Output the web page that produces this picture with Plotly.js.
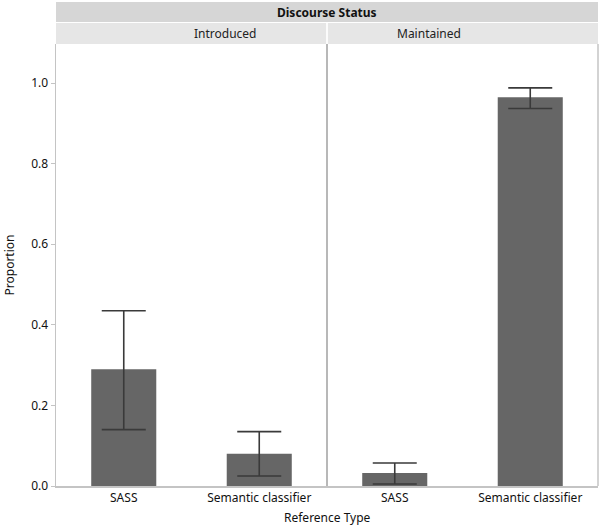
<!DOCTYPE html>
<html>
<head>
<meta charset="utf-8">
<script src="https://cdn.plot.ly/plotly-3.0.1.min.js"></script>
<style>
  html, body { margin: 0; padding: 0; background: #fff; }
  #chart { width: 600px; height: 531px; }
</style>
</head>
<body>
<div id="chart"></div>
<script>
// values
const categories = ['SASS', 'Semantic classifier'];
const panels = ['Introduced', 'Maintained'];
const introducedValues = [0.29, 0.08];
const introducedUpper = [0.435, 0.135];
const introducedLower = [0.14, 0.025];
const maintainedValues = [0.032, 0.965];
const maintainedUpper = [0.057, 0.988];
const maintainedLower = [0.005, 0.937];
const yTicks = [0, 0.2, 0.4, 0.6, 0.8, 1.0];

const barColor = '#666666';
const errColor = '#3a3a3a';
const axisGray = '#c4c4c4';
const font = 'Noto Sans, Open Sans, sans-serif';

// turn upper/lower limits into plotly's plus/minus arrays
const plus = (vals, up) => vals.map((v, i) => up[i] - v);
const minus = (vals, lo) => vals.map((v, i) => v - lo[i]);

function barTrace(vals, up, lo, xaxis) {
  return {
    type: 'bar',
    x: categories,
    y: vals,
    xaxis: xaxis,
    yaxis: 'y',
    width: 0.48,
    marker: { color: barColor, line: { width: 0 } },
    error_y: {
      type: 'data',
      symmetric: false,
      array: plus(vals, up),
      arrayminus: minus(vals, lo),
      color: errColor,
      thickness: 1.6,
      width: 22
    },
    hoverinfo: 'x+y',
    showlegend: false
  };
}

const data = [
  barTrace(introducedValues, introducedUpper, introducedLower, 'x'),
  barTrace(maintainedValues, maintainedUpper, maintainedLower, 'x2')
];

const xCommon = {
  type: 'category',
  range: [-0.5, 1.5],
  showgrid: false,
  zeroline: false,
  showline: true,
  linecolor: axisGray,
  linewidth: 1.5,
  ticks: '',
  tickfont: { family: font, size: 12, color: '#111' },
  fixedrange: true
};

const layout = {
  width: 600,
  height: 531,
  margin: { l: 56, r: 2, t: 44, b: 45 },
  paper_bgcolor: '#ffffff',
  plot_bgcolor: '#ffffff',
  bargap: 0.52,
  xaxis: Object.assign({}, xCommon, { domain: [0, 0.5], anchor: 'y' }),
  xaxis2: Object.assign({}, xCommon, { domain: [0.5, 1], anchor: 'y' }),
  yaxis: {
    range: [0, 1.097],
    tickvals: yTicks,
    ticktext: yTicks.map(v => v.toFixed(1)),
    showgrid: false,
    zeroline: false,
    showline: true,
    linecolor: axisGray,
    linewidth: 1.5,
    ticks: 'outside',
    ticklen: 4,
    tickcolor: axisGray,
    tickfont: { family: font, size: 12, color: '#111' },
    title: { text: 'Proportion', font: { family: font, size: 12, color: '#111' }, standoff: 14 },
    fixedrange: true
  },
  shapes: [
    // outer header strip and panel strips
    { type: 'rect', xref: 'paper', yref: 'paper', x0: 0, x1: 1, y0: 1.0498, y1: 1.095,
      fillcolor: '#d6d6d6', line: { width: 0 }, layer: 'below' },
    { type: 'rect', xref: 'paper', yref: 'paper', x0: 0, x1: 0.4985, y0: 1.0, y1: 1.0475,
      fillcolor: '#e6e6e6', line: { width: 0 }, layer: 'below' },
    { type: 'rect', xref: 'paper', yref: 'paper', x0: 0.5015, x1: 1, y0: 1.0, y1: 1.0475,
      fillcolor: '#e6e6e6', line: { width: 0 }, layer: 'below' },
    // panel divider and right border
    { type: 'line', xref: 'paper', yref: 'paper', x0: 0.5, x1: 0.5, y0: 0, y1: 1,
      line: { color: '#a0a0a0', width: 1.5 } },
    { type: 'line', xref: 'paper', yref: 'paper', x0: 1, x1: 1, y0: 0, y1: 1,
      line: { color: axisGray, width: 1.5 } }
  ],
  annotations: [
    { text: '<b>Discourse Status</b>', xref: 'paper', yref: 'paper', x: 0.5, y: 1.072,
      showarrow: false, yanchor: 'middle', font: { family: font, size: 12, color: '#111' } },
    { text: panels[0], xref: 'paper', yref: 'paper', x: 0.25, y: 1.024,
      showarrow: false, yanchor: 'middle', font: { family: font, size: 12, color: '#222' } },
    { text: panels[1], xref: 'paper', yref: 'paper', x: 0.75, y: 1.024,
      showarrow: false, yanchor: 'middle', font: { family: font, size: 12, color: '#222' } },
    { text: 'Reference Type', xref: 'paper', yref: 'paper', x: 0.5, y: -0.072,
      showarrow: false, yanchor: 'middle', font: { family: font, size: 12, color: '#111' } }
  ]
};

Plotly.newPlot('chart', data, layout, { displayModeBar: false, staticPlot: true });
</script>
</body>
</html>
